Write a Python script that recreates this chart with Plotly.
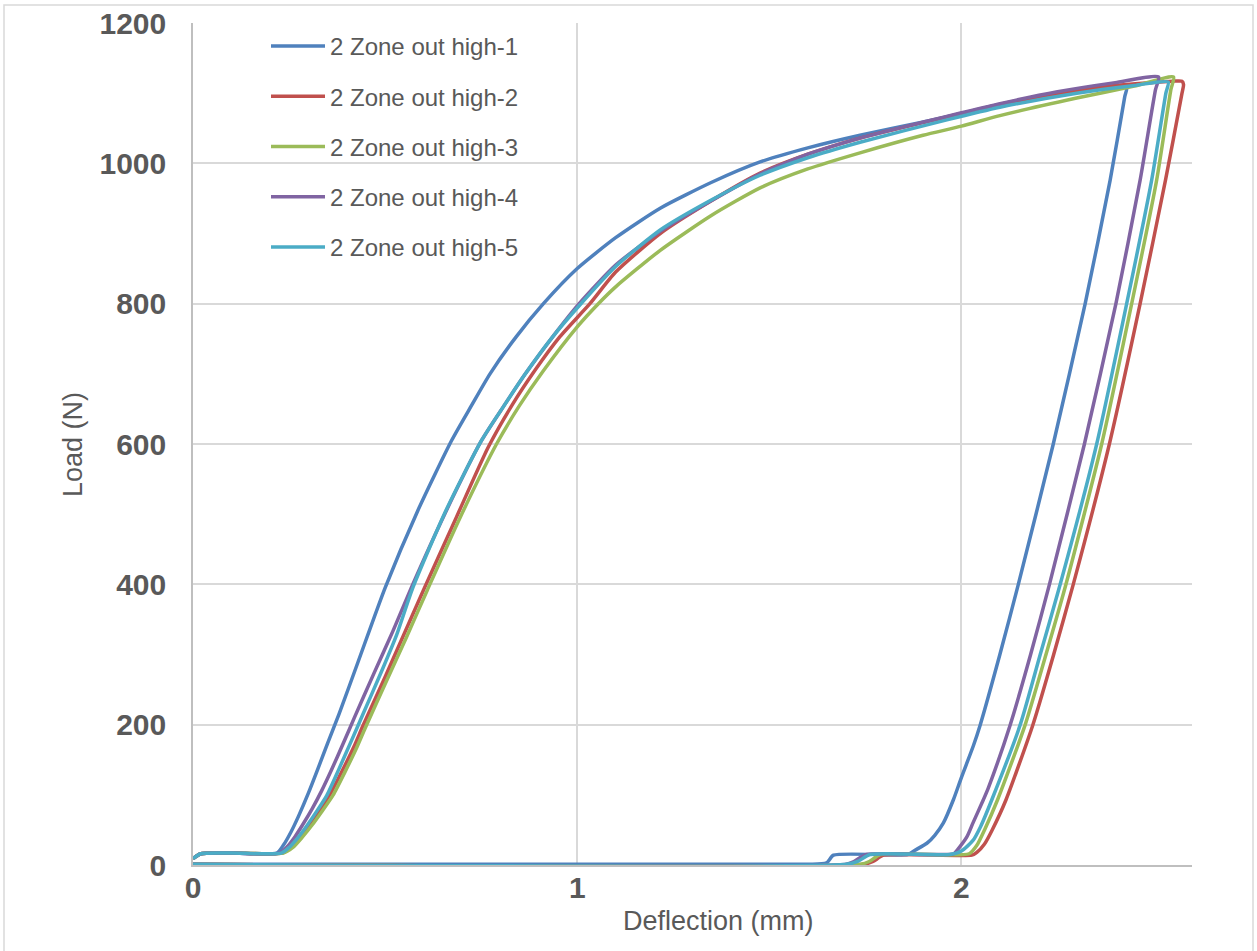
import plotly.graph_objects as go

# ---------------- data ----------------
names = ["2 Zone out high-1", "2 Zone out high-2", "2 Zone out high-3",
         "2 Zone out high-4", "2 Zone out high-5"]
colors = ["#4F81BD", "#C0504D", "#9BBB59", "#8064A2", "#4BACC6"]

s1_x = [0, 0.02, 0.1, 0.218, 0.235, 0.255, 0.275, 0.30, 0.325, 0.35, 0.38, 0.43, 0.50, 0.585, 0.673,
        0.725, 0.773, 0.84, 0.912, 1.0, 1.1, 1.216, 1.35, 1.476, 1.6, 1.736, 1.91, 2.0, 2.1, 2.25, 2.43,
        2.425, 2.387, 2.322, 2.239, 2.148, 2.10, 2.049, 2.031, 2.0, 1.979, 1.953, 1.93, 1.91, 1.879, 1.86,
        1.667, 1.649, 1.6, 0]
s1_y = [9, 16, 17, 17, 28, 47, 70, 102, 137, 173, 215, 290, 395, 505, 605,
        655, 700, 752, 800, 850, 894, 936, 973, 1002, 1022, 1040, 1060, 1071, 1084, 1099, 1110,
        1095, 976, 800, 600, 400, 300, 200, 170, 125, 93, 60, 42, 31, 21, 15,
        14, 3, 1, 1]

s2_x = [0, 0.02, 0.1, 0.232, 0.255, 0.28, 0.305, 0.33, 0.36, 0.39, 0.42, 0.442, 0.50, 0.55, 0.60,
        0.685, 0.768, 0.83, 0.89, 0.955, 1.033, 1.1, 1.216, 1.35, 1.476, 1.6, 1.736, 1.9, 2.0, 2.1,
        2.25, 2.4, 2.55, 2.574,
        2.578, 2.574, 2.531, 2.465, 2.385, 2.291, 2.24, 2.186, 2.116, 2.08, 2.06, 2.04, 2.027,
        1.797, 1.77, 1.745, 0]
s2_y = [9, 16, 17, 17, 25, 40, 58, 78, 104, 136, 170, 198, 268, 330, 392,
        495, 595, 655, 705, 753, 800, 845, 900, 947, 986, 1013, 1036, 1058, 1071, 1084,
        1100, 1111, 1117, 1117,
        1112, 1100, 976, 800, 600, 400, 300, 200, 93, 50, 30, 18, 14,
        14, 5, 1, 1]

s3_x = [0, 0.02, 0.1, 0.235, 0.26, 0.285, 0.31, 0.335, 0.365, 0.395, 0.425, 0.448, 0.50, 0.555, 0.61,
        0.695, 0.79, 0.85, 0.91, 1.0, 1.055, 1.1, 1.216, 1.35, 1.476, 1.6, 1.736, 1.9, 2.0, 2.1,
        2.3, 2.45, 2.552,
        2.545, 2.508, 2.443, 2.365, 2.272, 2.22, 2.166, 2.094, 2.06, 2.04, 2.02,
        1.789, 1.76, 1.737, 0]
s3_y = [9, 16, 17, 17, 25, 40, 57, 76, 100, 132, 166, 195, 258, 324, 392,
        495, 600, 655, 703, 767, 800, 824, 876, 926, 965, 992, 1015, 1040, 1053, 1068,
        1093, 1110, 1123,
        1105, 976, 800, 600, 400, 300, 200, 93, 50, 28, 16,
        15, 5, 1, 1]

s4_x = [0, 0.02, 0.1, 0.225, 0.245, 0.265, 0.285, 0.31, 0.335, 0.36, 0.39, 0.42, 0.47, 0.52, 0.568,
        0.655, 0.751, 0.81, 0.865, 0.935, 1.005, 1.1, 1.216, 1.35, 1.476, 1.6, 1.736, 1.91, 2.0, 2.1,
        2.25, 2.4, 2.513,
        2.505, 2.465, 2.402, 2.32, 2.229, 2.18, 2.127, 2.07, 2.057, 2.03, 2.014, 1.99, 1.98,
        1.753, 1.72, 1.70, 0]
s4_y = [9, 16, 17, 17, 26, 40, 57, 80, 106, 135, 172, 210, 272, 333, 395,
        500, 605, 655, 700, 752, 800, 855, 903, 947, 985, 1013, 1036, 1060, 1072, 1085,
        1102, 1115, 1123,
        1105, 976, 800, 600, 400, 300, 200, 110, 93, 60, 40, 22, 16,
        15, 5, 1, 1]

s5_x = [0, 0.02, 0.1, 0.23, 0.25, 0.27, 0.295, 0.32, 0.348, 0.38, 0.413, 0.44, 0.49, 0.53, 0.572,
        0.658, 0.751, 0.81, 0.865, 0.935, 1.005, 1.1, 1.216, 1.35, 1.476, 1.6, 1.736, 1.962, 2.1,
        2.3, 2.45, 2.538,
        2.532, 2.495, 2.43, 2.352, 2.257, 2.205, 2.153, 2.079, 2.05, 2.03, 2.0, 1.97,
        1.762, 1.73, 1.70, 0]
s5_y = [9, 16, 17, 17, 25, 37, 55, 75, 99, 137, 178, 212, 275, 328, 395,
        505, 605, 655, 700, 752, 797, 853, 905, 948, 983, 1008, 1030, 1062, 1080,
        1100, 1111, 1116,
        1100, 976, 800, 600, 400, 300, 200, 93, 55, 35, 20, 15,
        15, 5, 1, 1]

series_x = [s1_x, s2_x, s3_x, s4_x, s5_x]
series_y = [s1_y, s2_y, s3_y, s4_y, s5_y]

x_ticks = [0, 1, 2]
y_ticks = [0, 200, 400, 600, 800, 1000, 1200]

# ---------------- figure ----------------
FONT = "Arial, Liberation Sans, Helvetica, sans-serif"
W, H = 1257, 951
L, R, T, B = 193, 65, 23, 86
pw, ph = W - L - R, H - T - B

fig = go.Figure()
for i in range(5):
    fig.add_trace(go.Scatter(
        x=series_x[i], y=series_y[i], mode="lines", name=names[i],
        legendgroup=f"g{i}",
        line=dict(color=colors[i], width=3.5, shape="spline", smoothing=0.6),
    ))

fig.update_layout(
    width=W, height=H,
    margin=dict(l=L, r=R, t=T, b=B, pad=0, autoexpand=False),
    paper_bgcolor="white", plot_bgcolor="white",
    font=dict(family=FONT, color="#595959"),
    showlegend=True,
    legend=dict(
        x=(266 - L) / pw, y=1 - (24 - T) / ph, xanchor="left", yanchor="top",
        bgcolor="rgba(0,0,0,0)", borderwidth=0,
        font=dict(family=FONT, size=24, color="#595959"),
        tracegroupgap=16, itemwidth=54,
    ),
    xaxis=dict(
        range=[0, 2.6], tickvals=x_ticks, ticktext=[str(v) for v in x_ticks],
        showgrid=True, gridcolor="#D9D9D9", gridwidth=1.5,
        showline=True, linecolor="#BFBFBF", linewidth=2,
        zeroline=False, ticks="", ticklabelstandoff=-5, automargin=False,
        tickfont=dict(family=FONT, size=30, color="#595959", weight="bold"),
    ),
    yaxis=dict(
        range=[0, 1200], tickvals=y_ticks, ticktext=[str(v) for v in y_ticks],
        showgrid=True, gridcolor="#D9D9D9", gridwidth=1.5,
        showline=True, linecolor="#BFBFBF", linewidth=1.5,
        zeroline=False, ticks="", ticklabelstandoff=19, automargin=False,
        tickfont=dict(family=FONT, size=30, color="#595959", weight="bold"),
    ),
    annotations=[
        dict(text="Deflection (mm)", xref="paper", yref="paper",
             x=(718 - L) / pw, y=-(921 - (H - B)) / ph, xanchor="center", yanchor="middle",
             showarrow=False, font=dict(family=FONT, size=27, color="#595959")),
        dict(text="Load (N)", xref="paper", yref="paper", textangle=-90,
             x=(73 - L) / pw, y=((H - B) - 445) / ph, xanchor="center", yanchor="middle",
             showarrow=False, font=dict(family=FONT, size=27, color="#595959")),
    ],
    shapes=[
        dict(type="rect", xref="paper", yref="paper", layer="below",
             x0=(4 - L) / pw, x1=(1253 - L) / pw,
             y0=((H - B) - 960) / ph, y1=((H - B) - 5) / ph,
             line=dict(color="#D9D9D9", width=1.5), fillcolor="rgba(0,0,0,0)"),
    ],
)

fig.write_html("out.html")
